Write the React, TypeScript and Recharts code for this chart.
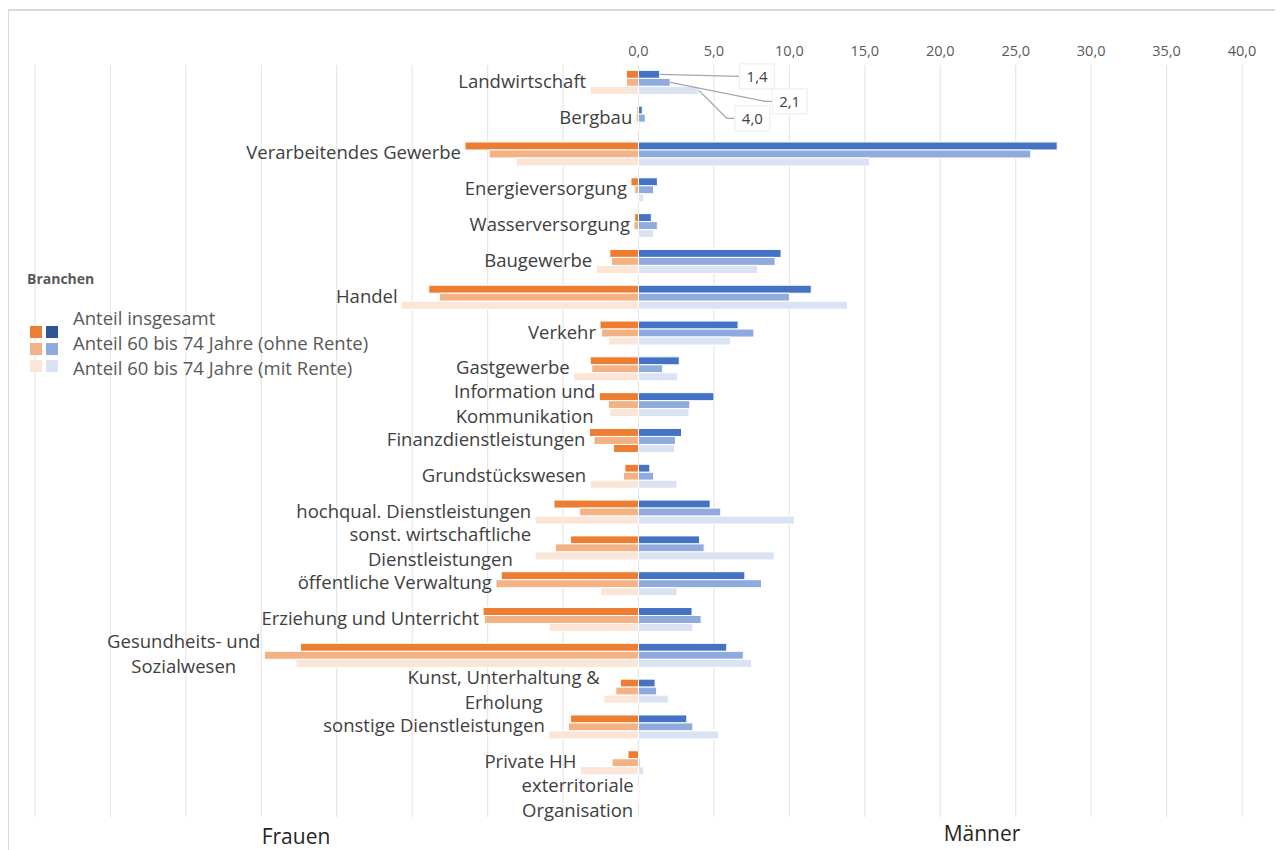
import React from 'react';
import { BarChart, Bar, XAxis, YAxis, CartesianGrid, LabelList, Cell } from 'recharts';

// ---------- DATA ----------
const categories: string[] = [
  'Landwirtschaft',
  'Bergbau',
  'Verarbeitendes Gewerbe',
  'Energieversorgung',
  'Wasserversorgung',
  'Baugewerbe',
  'Handel',
  'Verkehr',
  'Gastgewerbe',
  'Information und\nKommunikation',
  'Finanzdienstleistungen',
  'Grundstückswesen',
  'hochqual. Dienstleistungen',
  'sonst. wirtschaftliche\nDienstleistungen',
  'öffentliche Verwaltung',
  'Erziehung und Unterricht',
  'Gesundheits- und\nSozialwesen',
  'Kunst, Unterhaltung &\nErholung',
  'sonstige Dienstleistungen',
  'Private HH',
  'exterritoriale\nOrganisation',
];

// Frauen (Anteile in %, links dargestellt)
const womenTotal = [0.8, 0.1, 11.5, 0.5, 0.25, 1.9, 13.9, 2.55, 3.2, 2.6, 3.25, 0.9, 5.6, 4.5, 9.1, 10.3, 22.4, 1.2, 4.5, 0.7, 0.05];
const womenOhneRente = [0.8, 0.15, 9.9, 0.25, 0.3, 1.8, 13.2, 2.45, 3.1, 2.0, 2.95, 1.0, 3.9, 5.5, 9.45, 10.2, 24.8, 1.5, 4.65, 1.75, 0.05];
const womenMitRente = [3.2, 0.05, 8.1, 0.1, 0.05, 2.8, 15.7, 2.0, 4.3, 1.9, 1.65, 3.2, 6.85, 6.85, 2.5, 5.9, 22.7, 2.3, 5.95, 3.85, 0];

// Männer (Anteile in %, rechts dargestellt)
const menTotal = [1.4, 0.25, 27.75, 1.25, 0.85, 9.45, 11.45, 6.6, 2.7, 5.0, 2.85, 0.75, 4.75, 4.05, 7.05, 3.55, 5.85, 1.1, 3.2, 0.02, 0.05];
const menOhneRente = [2.1, 0.45, 26.0, 1.0, 1.25, 9.05, 10.0, 7.65, 1.6, 3.4, 2.45, 1.0, 5.45, 4.35, 8.15, 4.15, 6.95, 1.2, 3.6, 0.1, 0.05];
const menMitRente = [4.0, 0.1, 15.3, 0.35, 1.0, 7.9, 13.85, 6.1, 2.6, 3.35, 2.4, 2.55, 10.35, 9.0, 2.55, 3.6, 7.5, 2.0, 5.3, 0.35, 0];

const xTicks = [-40, -35, -30, -25, -20, -15, -10, -5, 0, 5, 10, 15, 20, 25, 30, 35, 40];

const legendLabels = [
  'Anteil insgesamt',
  'Anteil 60 bis 74 Jahre (ohne Rente)',
  'Anteil 60 bis 74 Jahre (mit Rente)',
];

// ---------- STYLE ----------
const FONT = '"Open Sans", "Noto Sans", sans-serif';
const LABEL_SIZE = 18.5;
const W_COLORS = ['#ED7D31', '#F4B183', '#FBE5D6'];
const M_COLORS = ['#4472C4', '#8FAADC', '#DAE3F3'];
const LEGEND_M_COLORS = ['#2F5597', '#8FAADC', '#DAE3F3'];
const W_KEYS = ['wTotal', 'wOhne', 'wMit'];
const M_KEYS = ['mTotal', 'mOhne', 'mMit'];
// leader-line label offsets for the first category (men series)
const LEADER = [
  { dx: 80, dy: 2, knee: 0 },
  { dx: 102, dy: 19, knee: 7 },
  { dx: 36, dy: 28, knee: 8 },
];

const rows = categories.map((name, i) => ({
  name,
  wTotal: -womenTotal[i],
  wOhne: -womenOhneRente[i],
  wMit: -womenMitRente[i],
  mTotal: menTotal[i],
  mOhne: menOhneRente[i],
  mMit: menMitRente[i],
}));

let measureCtx: CanvasRenderingContext2D | null = null;
function measure(text: string, font: string): number {
  if (!measureCtx) measureCtx = document.createElement('canvas').getContext('2d');
  if (!measureCtx) return text.length * 9;
  measureCtx.font = font;
  return measureCtx.measureText(text).width;
}

const fmt = (v: number) => v.toFixed(1).replace('.', ',');

function makeCategoryLabel(k: number) {
  return (props: any) => {
    const index: number = props.index;
    if (index == null) return null;
    const row: any = rows[index];
    const vals = W_KEYS.map((key) => row[key] as number);
    const minV = Math.min(...vals);
    const first = vals.indexOf(minV);
    if (first !== k) return null;
    const vb = props.viewBox && props.viewBox.x != null ? props.viewBox : props;
    const x = Number(vb.x);
    const w = Number(vb.width);
    const y = Number(vb.y);
    const h = Number(vb.height);
    const left = Math.min(x, x + w);
    const cy = y + h / 2 + (1 - k) * h - 2;
    const lines = String(row.name).split('\n');
    const font = `${LABEL_SIZE}px ${FONT}`;
    const blockW = Math.max(...lines.map((l) => measure(l, font)));
    const right = left - 4;
    const cx = right - blockW / 2;
    const lineH = 25;
    return (
      <g>
        {lines.map((l, li) => (
          <text
            key={li}
            x={cx}
            y={cy - ((lines.length - 1) * lineH) / 2 + li * lineH}
            textAnchor="middle"
            dominantBaseline="central"
            fontSize={LABEL_SIZE}
            fontFamily={FONT}
            fill="#404040"
          >
            {l}
          </text>
        ))}
      </g>
    );
  };
}

function makeLeaderLabel(k: number) {
  return (props: any) => {
    if (props.index !== 0) return null;
    const vb = props.viewBox && props.viewBox.x != null ? props.viewBox : props;
    const x = Number(vb.x);
    const w = Number(vb.width);
    const y = Number(vb.y);
    const h = Number(vb.height);
    const endX = Math.max(x, x + w);
    const cy = y + h / 2;
    const o = LEADER[k];
    const bx = endX + o.dx;
    const by = cy + o.dy;
    const text = fmt((rows[0] as any)[M_KEYS[k]]);
    const bw = 35;
    const bh = 25;
    return (
      <g>
        <polyline
          points={`${endX},${cy} ${bx - o.knee},${by} ${bx},${by}`}
          fill="none"
          stroke="#a6a6a6"
          strokeWidth={1.3}
        />
        <rect x={bx} y={by - bh / 2} width={bw} height={bh} fill="#fff" stroke="#ececec" strokeWidth={1} />
        <text
          x={bx + bw / 2}
          y={by}
          textAnchor="middle"
          dominantBaseline="central"
          fontSize={15}
          fontFamily={FONT}
          fill="#404040"
        >
          {text}
        </text>
      </g>
    );
  };
}

export default function App() {
  return (
    <div
      style={{
        position: 'relative',
        width: 1275,
        height: 842,
        overflow: 'hidden',
        fontFamily: FONT,
        background: '#fff',
      }}
    >
      <style>{'html,body{overflow:hidden;}'}</style>
      <div
        style={{
          position: 'absolute',
          left: -1,
          top: 1,
          width: 2000,
          height: 2000,
          borderTop: '2px solid #d9d9d9',
          borderLeft: '2px solid #d9d9d9',
        }}
      />
      <div style={{ position: 'absolute', left: 0, top: 0 }}>
        <BarChart
          width={1275}
          height={842}
          data={rows}
          layout="vertical"
          stackOffset="sign"
          barCategoryGap="15%"
          barGap={0}
          margin={{ top: 27, right: 41, bottom: 33, left: 27 }}
        >
          <CartesianGrid horizontal={false} vertical stroke="#e6e6e6" strokeWidth={1.2} />
          <XAxis
            type="number"
            orientation="top"
            domain={[-40, 40]}
            ticks={xTicks}
            interval={0}
            axisLine={false}
            tickLine={false}
            height={30}
            tickMargin={3}
            tick={{ fontSize: 14.5, fill: '#595959', fontFamily: FONT }}
            tickFormatter={(v: number) => (v >= 0 ? fmt(v) : '')}
          />
          <YAxis type="category" dataKey="name" hide />
          <Bar dataKey="wTotal" stackId="a" fill={W_COLORS[0]} stroke="#fff" strokeWidth={1} isAnimationActive={false}>
            <LabelList dataKey="wTotal" content={makeCategoryLabel(0)} />
          </Bar>
          <Bar dataKey="mTotal" stackId="a" fill={M_COLORS[0]} stroke="#fff" strokeWidth={1} isAnimationActive={false}>
            <LabelList dataKey="mTotal" content={makeLeaderLabel(0)} />
          </Bar>
          <Bar dataKey="wOhne" stackId="b" fill={W_COLORS[1]} stroke="#fff" strokeWidth={1} isAnimationActive={false}>
            <LabelList dataKey="wOhne" content={makeCategoryLabel(1)} />
          </Bar>
          <Bar dataKey="mOhne" stackId="b" fill={M_COLORS[1]} stroke="#fff" strokeWidth={1} isAnimationActive={false}>
            <LabelList dataKey="mOhne" content={makeLeaderLabel(1)} />
          </Bar>
          <Bar dataKey="wMit" stackId="c" fill={W_COLORS[2]} stroke="#fff" strokeWidth={1} isAnimationActive={false}>
            {rows.map((r, i) => (
              <Cell key={i} fill={r.name === 'Finanzdienstleistungen' ? W_COLORS[0] : W_COLORS[2]} />
            ))}
            <LabelList dataKey="wMit" content={makeCategoryLabel(2)} />
          </Bar>
          <Bar dataKey="mMit" stackId="c" fill={M_COLORS[2]} stroke="#fff" strokeWidth={1} isAnimationActive={false}>
            <LabelList dataKey="mMit" content={makeLeaderLabel(2)} />
          </Bar>
        </BarChart>
      </div>

      {/* Legend */}
      <div
        style={{
          position: 'absolute',
          left: 19,
          top: 262,
          fontSize: 14,
          fontWeight: 700,
          color: '#595959',
          lineHeight: '18px',
        }}
      >
        Branchen
      </div>
      {legendLabels.map((lab, i) => (
        <React.Fragment key={i}>
          <div
            style={{
              position: 'absolute',
              left: 22,
              top: 318 + i * 17,
              width: 12,
              height: 12,
              background: W_COLORS[i],
            }}
          />
          <div
            style={{
              position: 'absolute',
              left: 38,
              top: 318 + i * 17,
              width: 12,
              height: 12,
              background: LEGEND_M_COLORS[i],
            }}
          />
          <div
            style={{
              position: 'absolute',
              left: 65,
              top: 310 + i * 25 - 12,
              fontSize: LABEL_SIZE,
              color: '#595959',
              lineHeight: '24px',
              whiteSpace: 'nowrap',
            }}
          >
            {lab}
          </div>
        </React.Fragment>
      ))}

      <div
        style={{
          position: 'absolute',
          left: 288,
          top: 828,
          transform: 'translate(-50%, -50%)',
          fontSize: 21,
          lineHeight: '22px',
          color: '#262626',
          whiteSpace: 'nowrap',
        }}
      >
        Frauen
      </div>
      <div
        style={{
          position: 'absolute',
          left: 974,
          top: 825,
          transform: 'translate(-50%, -50%)',
          fontSize: 21,
          lineHeight: '22px',
          color: '#262626',
          whiteSpace: 'nowrap',
        }}
      >
        Männer
      </div>
    </div>
  );
}
